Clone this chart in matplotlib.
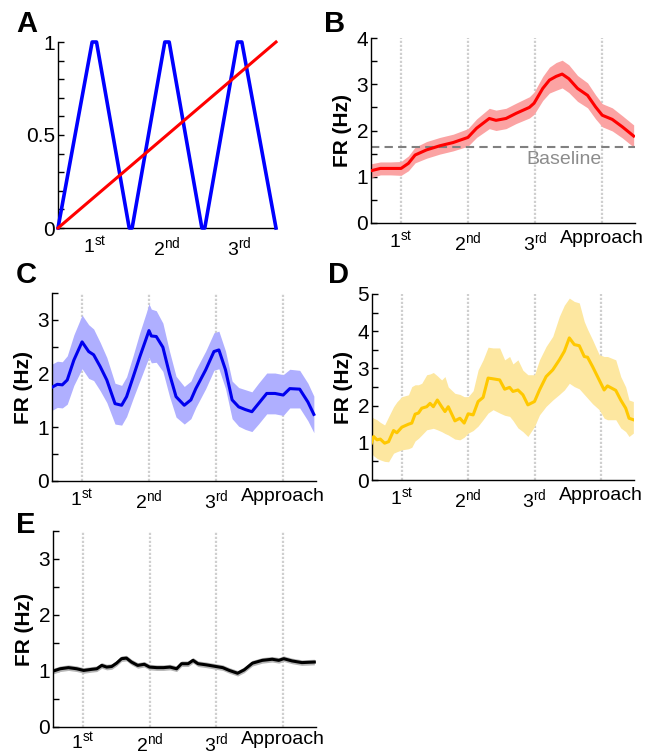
import matplotlib
matplotlib.use("Agg")
import matplotlib.pyplot as plt
import numpy as np

plt.rcParams['font.family'] = ['Liberation Sans', 'DejaVu Sans']
plt.rcParams['mathtext.fontset'] = 'custom'
plt.rcParams['mathtext.rm'] = 'Liberation Sans'
plt.rcParams['mathtext.it'] = 'Liberation Sans'

# ---------------- data ----------------
# Panel A: model regressors
a_x_tri = [0.5, 0.97, 1.03, 1.48, 1.52, 1.97, 2.03, 2.48, 2.52, 2.97, 3.03, 3.5]
a_y_tri = [0, 1, 1, 0, 0, 1, 1, 0, 0, 1, 1, 0]
a_x_lin = [0.5, 3.5]
a_y_lin = [0, 1]
a_ticks = [1, 2, 3]
a_ticklabels = [r'1$^{\rm st}$', r'2$^{\rm nd}$', r'3$^{\rm rd}$']

event_ticks = [1, 2, 3, 4]
event_labels = [r'1$^{\rm st}$', r'2$^{\rm nd}$', r'3$^{\rm rd}$', 'Approach']

# Panel B (red)
b_x = [0.55, 0.69, 0.84, 1.0, 1.11, 1.21, 1.38, 1.58, 1.78, 2.0, 2.13, 2.32, 2.42,
       2.57, 2.72, 2.92, 2.99, 3.12, 3.22, 3.32, 3.41, 3.51, 3.64, 3.79, 3.91,
       4.01, 4.16, 4.31, 4.48]
b_y = [1.13, 1.18, 1.18, 1.18, 1.29, 1.47, 1.58, 1.67, 1.74, 1.85, 2.05, 2.26, 2.22,
       2.26, 2.37, 2.50, 2.59, 2.91, 3.09, 3.17, 3.22, 3.12, 2.91, 2.76, 2.51,
       2.33, 2.24, 2.08, 1.88]
b_sem = [0.15, 0.14, 0.14, 0.15, 0.16, 0.17, 0.18, 0.18, 0.18, 0.19, 0.2, 0.22, 0.22,
         0.22, 0.22, 0.23, 0.24, 0.26, 0.28, 0.3, 0.3, 0.3, 0.28, 0.27, 0.26,
         0.25, 0.25, 0.24, 0.24]
baseline = 1.65

# Panel C (blue)
c_x = [0.556, 0.63, 0.704, 0.778, 0.877, 1.0, 1.099, 1.173, 1.271, 1.37, 1.493,
       1.592, 1.666, 1.765, 1.863, 1.962, 2.001, 2.036, 2.11, 2.209, 2.307, 2.406,
       2.529, 2.628, 2.702, 2.85, 2.973, 3.047, 3.146, 3.245, 3.343, 3.442, 3.541,
       3.639, 3.763, 3.886, 4.009, 4.108, 4.256, 4.379, 4.468]
c_y = [1.75, 1.80, 1.79, 1.88, 2.25, 2.59, 2.41, 2.35, 2.13, 1.88, 1.44,
       1.41, 1.57, 1.94, 2.31, 2.66, 2.80, 2.70, 2.69, 2.49, 2.00, 1.57,
       1.41, 1.51, 1.72, 2.07, 2.41, 2.44, 2.07, 1.51, 1.38, 1.33, 1.29,
       1.44, 1.63, 1.63, 1.60, 1.72, 1.71, 1.47, 1.24]
c_sem = [0.43, 0.43, 0.43, 0.45, 0.47, 0.5, 0.5, 0.48, 0.45, 0.42, 0.38,
         0.37, 0.37, 0.4, 0.45, 0.48, 0.5, 0.5, 0.48, 0.45, 0.42, 0.38,
         0.35, 0.35, 0.35, 0.35, 0.35, 0.35, 0.35, 0.35, 0.36, 0.37, 0.37,
         0.38, 0.38, 0.38, 0.38, 0.36, 0.35, 0.35, 0.34]

# Panel D (yellow)
d_x = [0.54, 0.575, 0.625, 0.675, 0.74, 0.80, 0.875, 0.925, 1.0, 1.10, 1.15, 1.20,
       1.25, 1.30, 1.375, 1.425, 1.475, 1.535, 1.60, 1.65, 1.70, 1.80, 1.875, 1.94,
       2.0, 2.075, 2.15, 2.225, 2.30, 2.375, 2.475, 2.55, 2.625, 2.675, 2.75, 2.825,
       2.90, 3.0, 3.075, 3.175, 3.275, 3.375, 3.45, 3.525, 3.60, 3.675, 3.75, 3.80,
       3.875, 3.975, 4.05, 4.10, 4.225, 4.30, 4.375, 4.425, 4.49]
d_y = [0.99, 1.17, 1.08, 1.10, 0.99, 1.03, 1.33, 1.27, 1.42, 1.50, 1.53, 1.77,
       1.80, 1.93, 1.97, 2.06, 1.97, 2.15, 1.97, 1.84, 1.97, 1.59, 1.66, 1.53,
       1.78, 1.75, 2.11, 2.22, 2.74, 2.72, 2.69, 2.44, 2.49, 2.38, 2.42, 2.29,
       2.02, 2.11, 2.42, 2.78, 2.96, 3.23, 3.46, 3.82, 3.64, 3.61, 3.32, 3.30,
       3.05, 2.69, 2.42, 2.53, 2.41, 2.15, 1.93, 1.66, 1.62]
d_lo = [0.72, 0.65, 0.58, 0.54, 0.50, 0.49, 0.72, 0.76, 0.81, 0.84, 0.88, 1.05,
        1.12, 1.21, 1.35, 1.37, 1.39, 1.35, 1.30, 1.25, 1.21, 1.10, 1.08, 1.15,
        1.26, 1.33, 1.45, 1.62, 1.80, 1.89, 1.80, 1.74, 1.71, 1.60, 1.40, 1.30,
        1.17, 1.44, 1.75, 1.98, 2.15, 2.30, 2.42, 2.60, 2.51, 2.45, 2.30, 2.20,
        2.05, 1.89, 1.66, 1.62, 1.62, 1.40, 1.30, 1.17, 1.26]
d_hi = [1.71, 1.66, 1.62, 1.55, 1.48, 1.70, 1.97, 2.10, 2.24, 2.29, 2.51, 2.56,
        2.56, 2.60, 2.83, 2.85, 2.89, 2.80, 2.69, 2.78, 2.50, 2.33, 2.30, 2.24,
        2.24, 2.40, 2.96, 3.23, 3.57, 3.55, 3.55, 3.23, 3.32, 3.12, 3.23, 2.95,
        2.83, 2.83, 3.23, 3.59, 3.86, 4.40, 4.70, 4.89, 4.80, 4.76, 4.26, 4.05,
        3.77, 3.37, 3.32, 3.32, 3.23, 2.78, 2.50, 2.15, 2.11]

# Panel E (black)
e_x = [0.556, 0.658, 0.782, 0.906, 1.01, 1.134, 1.208, 1.282, 1.356, 1.431, 1.505,
       1.579, 1.653, 1.728, 1.822, 1.921, 2.0, 2.109, 2.208, 2.307, 2.406, 2.48,
       2.579, 2.653, 2.728, 2.851, 3.0, 3.099, 3.198, 3.322, 3.421, 3.545, 3.693,
       3.842, 3.941, 4.015, 4.139, 4.287, 4.475]
e_y = [1.00, 1.04, 1.06, 1.04, 1.01, 1.03, 1.04, 1.10, 1.07, 1.08, 1.14,
       1.22, 1.23, 1.16, 1.10, 1.12, 1.07, 1.06, 1.06, 1.07, 1.04, 1.13,
       1.13, 1.19, 1.13, 1.11, 1.08, 1.06, 1.01, 0.96, 1.02, 1.14, 1.19,
       1.21, 1.19, 1.22, 1.18, 1.15, 1.16]
e_sem = [0.05] * len(e_x)

W, H = 657, 756
fig = plt.figure(figsize=(W / 100, H / 100), dpi=100)


def add_axes(l, r, t, b):
    return fig.add_axes([l / W, 1 - b / H, (r - l) / W, (b - t) / H])


def style(ax, ylim, yticks, minor_step, xlim, xticks, xlabels, xpad=5):
    for s in ['top', 'right']:
        ax.spines[s].set_visible(False)
    for s in ['left', 'bottom']:
        ax.spines[s].set_linewidth(1.0)
    ax.set_ylim(*ylim)
    ax.set_xlim(*xlim)
    ax.set_yticks(yticks)
    ax.set_yticklabels([('%g' % v) for v in yticks])
    ax.set_yticks(np.arange(ylim[0], ylim[1] + 1e-9, minor_step), minor=True)
    ax.tick_params(axis='y', which='both', direction='in', length=4, width=1.0,
                   labelsize=15, pad=2)
    ax.set_xticks(xticks)
    ax.set_xticklabels(xlabels)
    ax.tick_params(axis='x', which='both', length=0, labelsize=14, pad=xpad)


# Panel A
axA = add_axes(58, 276, 42, 228)
axA.plot(a_x_tri, a_y_tri, color='#0000ff', lw=2.6, clip_on=False, zorder=3)
axA.plot(a_x_lin, a_y_lin, color='#ff0000', lw=2.2, clip_on=False, zorder=4)
style(axA, (0, 1), [0, 0.5, 1], 0.1, (0.5, 3.5), a_ticks, a_ticklabels)


def event_panel(ax, ylim, yticks, xpad=5):
    for xv in event_ticks:
        ax.axvline(xv, color='#cfcfcf', lw=1.6, ls=(0, (1, 0.8)), zorder=1)
    style(ax, ylim, yticks, 0.5, (0.55, 4.5), event_ticks, event_labels, xpad)
    ax.set_ylabel('FR (Hz)', fontsize=15, fontweight='bold', labelpad=3)


# Panel B
axB = add_axes(371, 635, 38, 223)
bx, by, bs = np.array(b_x), np.array(b_y), np.array(b_sem)
axB.fill_between(bx, by - bs, by + bs, color='#fba3a3', lw=0, zorder=2)
axB.plot(bx, by, color='#ff0000', lw=2.2, zorder=3)
axB.axhline(baseline, color='#808080', lw=1.5, ls=(0, (4, 2.5)), zorder=2)
axB.text(4.0, 1.37, 'Baseline', color='#8c8c8c', fontsize=14, ha='right', va='center')
event_panel(axB, (0, 4), [0, 1, 2, 3, 4])

# Panel C
axC = add_axes(52, 316, 293, 481)
cx, cy, cs = np.array(c_x), np.array(c_y), np.array(c_sem)
axC.fill_between(cx, cy - cs, cy + cs, color='#afafff', lw=0, zorder=2)
axC.plot(cx, cy, color='#0000ee', lw=2.2, zorder=3)
event_panel(axC, (0, 3.5), [0, 1, 2, 3])

# Panel D
axD = add_axes(372, 634, 294, 480)
axD.fill_between(d_x, d_lo, d_hi, color='#fde7a0', lw=0, zorder=2)
axD.plot(d_x, d_y, color='#ffc800', lw=2.2, zorder=3)
event_panel(axD, (0, 5), [0, 1, 2, 3, 4, 5])

# Panel E
axE = add_axes(53, 316, 531, 727)
ex, ey, es = np.array(e_x), np.array(e_y), np.array(e_sem)
axE.fill_between(ex, ey - es, ey + es, color='#b5b5b5', lw=0, zorder=2)
axE.plot(ex, ey, color='#000000', lw=2.2, zorder=3)
event_panel(axE, (0, 3.5), [0, 1, 2, 3], xpad=3)

# Panel letters
for lab, x, y in [('A', 16, 32), ('B', 324, 32), ('C', 16, 283), ('D', 328, 283),
                  ('E', 16, 533)]:
    fig.text(x / W, 1 - y / H, lab, fontsize=21, fontweight='bold', ha='left',
             va='baseline')

fig.savefig('out.png', dpi=100)
